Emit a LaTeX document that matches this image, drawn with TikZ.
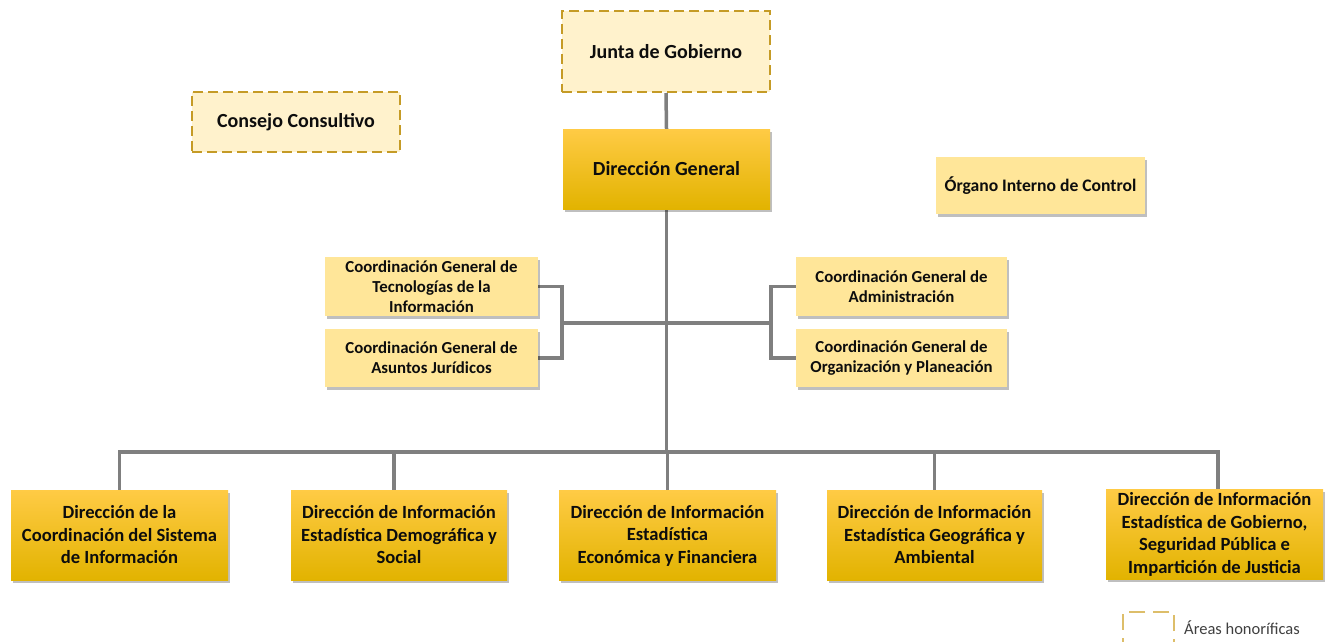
\documentclass[tikz,border=0pt]{standalone}
\usepackage{fontspec}
\setmainfont{Carlito}
\usetikzlibrary{shadows,backgrounds}
\definecolor{goldT}{HTML}{FFCB45}
\definecolor{goldM}{HTML}{FFC000}
\definecolor{goldB}{HTML}{E2B300}
\definecolor{pale}{HTML}{FFF2CC}
\definecolor{lightgold}{HTML}{FFE699}
\definecolor{dashgold}{HTML}{C59B26}
\definecolor{legendgold}{HTML}{DDBE6A}
\definecolor{linegray}{HTML}{7F7F7F}
\definecolor{txt}{HTML}{0D0D0D}
\tikzset{
  box/.style={rectangle, align=center, inner sep=0pt, font=\bfseries, text=txt},
  shad/.style={drop shadow={shadow xshift=1.5pt, shadow yshift=-2.5pt, opacity=0.25, fill=black}},
  goldbox/.style={box, shad, top color=goldT, middle color=goldM, bottom color=goldB},
  lightbox/.style={box, shad, fill=lightgold},
  honbox/.style={box, fill=pale, draw=dashgold, line width=2pt, dash pattern=on 10pt off 5pt},
  conn/.style={draw=linegray, line width=3.5pt},
  bigtxt/.style={font=\bfseries\fontsize{20}{24}\selectfont},
  midtxt/.style={font=\bfseries\fontsize{18.6}{22.5}\selectfont},
  smalltxt/.style={font=\bfseries\fontsize{16.8}{20}\selectfont},
}
\begin{document}
\begin{tikzpicture}[x=1pt,y=-1pt]
\useasboundingbox (0,0) rectangle (1325,642);

\node[honbox, bigtxt, minimum width=208, minimum height=81] (jg) at (666,51.5) {Junta de Gobierno};
\node[honbox, bigtxt, minimum width=208, minimum height=60] (cc) at (296,122) {Consejo Consultivo};
\node[goldbox, bigtxt, minimum width=207, minimum height=80] (dg) at (666.5,169) {Dirección General};
\node[lightbox, font=\bfseries\fontsize{17.6}{21}\selectfont, minimum width=209, minimum height=57] (oic) at (1040.5,185.5) {Órgano Interno de Control};

\node[lightbox, smalltxt, minimum width=213, minimum height=59] (cgti) at (431.5,286.5) {Coordinación General de\\Tecnologías de la\\Información};
\node[lightbox, smalltxt, minimum width=213, minimum height=58] (cgaj) at (431.5,358) {Coordinación General de\\Asuntos Jurídicos};
\node[lightbox, smalltxt, minimum width=211, minimum height=59] (cga) at (901.5,286.5) {Coordinación General de\\Administración};
\node[lightbox, smalltxt, minimum width=211, minimum height=58] (cgo) at (901.5,358) {Coordinación General de\\Organización y Planeación};

\node[goldbox, midtxt, minimum width=217, minimum height=90] (b1) at (119.5,535) {Dirección de la\\Coordinación del Sistema\\de Información};
\node[goldbox, midtxt, minimum width=216, minimum height=90] (b2) at (399,535) {Dirección de Información\\Estadística Demográfica y\\Social};
\node[goldbox, midtxt, minimum width=217, minimum height=90] (b3) at (667.5,535.5) {Dirección de Información\\Estadística\\Económica y Financiera};
\node[goldbox, midtxt, minimum width=215, minimum height=90] (b4) at (934.5,535) {Dirección de Información\\Estadística Geográfica y\\Ambiental};
\node[goldbox, midtxt, minimum width=217, minimum height=90] (b5) at (1214.5,534.5) {Dirección de Información\\Estadística de Gobierno,\\Seguridad Pública e\\Impartición de Justicia};

\node[box, draw=legendgold, line width=2pt, dash pattern=on 16pt off 8pt, minimum width=51, minimum height=40] (leg) at (1148.5,632) {};
\node[anchor=west, inner sep=0pt, text=black!75, font=\fontsize{16.5}{19}\selectfont] (legtxt) at (1184,628) {Áreas honoríficas};

\coordinate (hb) at (666,452);
\coordinate (lb) at (562,323);
\coordinate (rb) at (771,323);

\begin{pgfonlayer}{background}
\fill[white] (0,0) rectangle (1325,642);
\draw[conn] (jg.south) -- (dg.north);
\draw[conn] (dg.south) -- (dg.south |- hb);
\draw[conn] (b1.north) -- (b1.north |- hb) -- ([xshift=3.5pt]b5.north |- hb) -- ([xshift=3.5pt]b5.north);
\draw[conn] ([xshift=-5pt]b2.north) -- ([xshift=-5pt]b2.north |- hb);
\draw[conn] (b3.north) -- (b3.north |- hb);
\draw[conn] (b4.north) -- (b4.north |- hb);
\draw[conn] (cgti.east) -- (cgti.east -| lb) -- (cgaj.east -| lb) -- (cgaj.east);
\draw[conn] (cga.west) -- (cga.west -| rb) -- (cgo.west -| rb) -- (cgo.west);
\draw[conn] (lb) -- (rb);
\end{pgfonlayer}
\end{tikzpicture}
\end{document}
